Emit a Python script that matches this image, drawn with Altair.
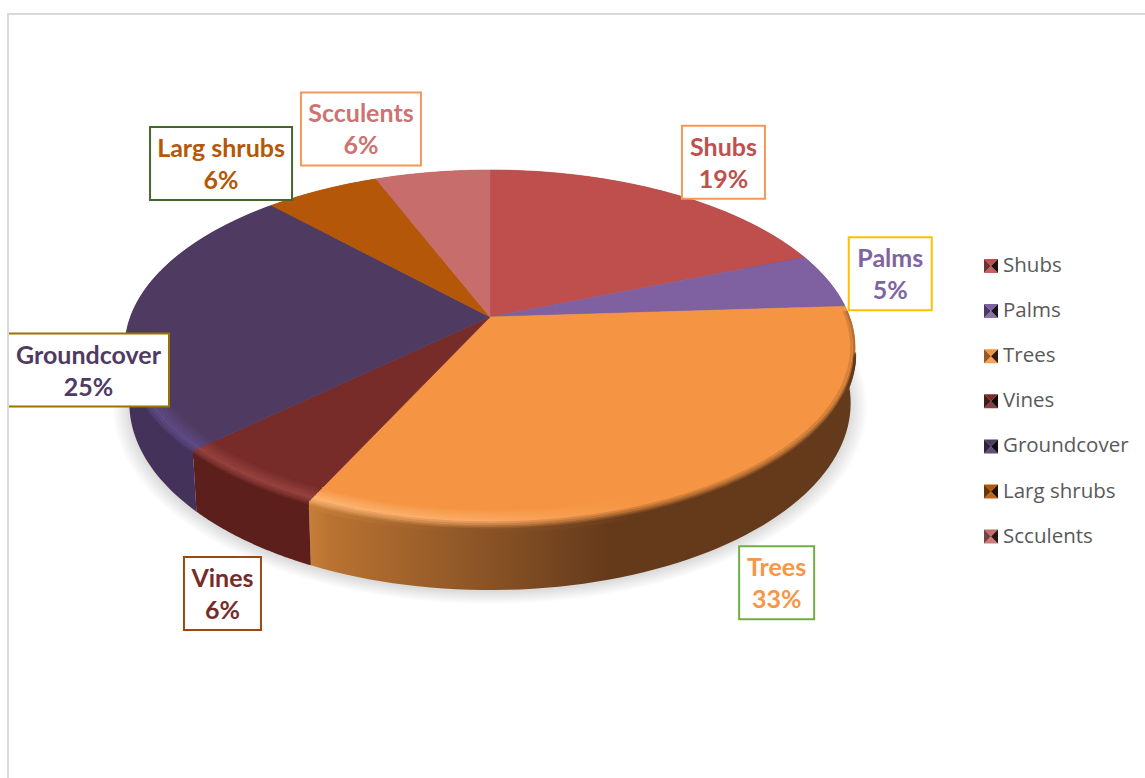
import numpy as np
import pandas as pd
import altair as alt

# Garden planting mix, one slice per plant group
categories = ["Shubs", "Palms", "Trees", "Vines", "Groundcover", "Larg shrubs", "Scculents"]
shares = [19, 5, 33, 6, 25, 6, 6]
face_colors = ["#BE4F4C", "#7F60A0", "#F59543", "#772C2A", "#4F3B62", "#B55708", "#C76D6B"]
side_colors = ["#7E3432", "#55406B", "#8E5627", "#5C1F1C", "#44325A", "#7A3A05", "#864947"]
rim_colors = ["#BE4F4C", "#7F60A0", "#FBAA66", "#96423E", "#5F4B85", "#B55708", "#C76D6B"]
box_colors = ["#F4985A", "#FFC000", "#70AD47", "#9E480E", "#997300", "#43682B", "#F4985A"]

# Label box centre relative to the slice's rim midpoint, and box size
label_dx = [56.5, 62, 51, -22, -44, -100.7, -71.4]
label_dy = [-30, -7, 99.5, 114.5, 58.5, -26.5, -43.3]
box_w = [83, 83, 75, 77, 161, 142, 120]
box_h = 73

W, H = 1145, 778
CX, CY, AX, AY, PERSP, DEPTH = 490, 317, 359.6, 172.3, 0.172, 53.8


def project(theta, lift=0.0, shrink=0.0, grow=0.0, shift=0.0, radius=1.0):
    """Clockwise angle from 12 o'clock onto the tilted disc, in canvas units."""
    u, v = radius * np.sin(theta), -radius * np.cos(theta)
    den = 1 - PERSP * v
    x = CX + (AX + grow) * u / den * (1 - shrink)
    y = CY + (AY + grow * 0.6) * v / den + lift * DEPTH / den + shift
    return x, y


def mix(a, b, t):
    t = min(max(t, 0), 1)
    pa = [int(a[i:i + 2], 16) for i in (1, 3, 5)]
    pb = [int(b[i:i + 2], 16) for i in (1, 3, 5)]
    return "#" + "".join(f"{round(p + (q - p) * t):02x}" for p, q in zip(pa, pb))


def band(d, face, rim, side):
    if d <= -3:
        return mix(face, rim, (d + 12) / 9)
    return mix(rim, side, (d + 3) / 7)


def hgrad(stops):
    return {"gradient": "linear", "x1": 0, "x2": 1, "y1": 0, "y2": 0,
            "stops": [{"offset": o, "color": c} for o, c in stops]}


x_scale = alt.Scale(domain=[0, W], nice=False, zero=False)
y_scale = alt.Scale(domain=[H, 0], nice=False, zero=False)
x_enc = alt.X("x:Q", axis=None, scale=x_scale)
y_enc = alt.Y("y:Q", axis=None, scale=y_scale)


def outline(xs, ys):
    return pd.DataFrame({"x": xs, "y": ys, "i": np.arange(len(xs))})


def shape(xs, ys, **mark):
    return alt.Chart(outline(xs, ys)).mark_line(interpolate="linear-closed", **mark).encode(
        x=x_enc, y=y_enc, order="i:Q")


def strip(xs, ys, **mark):
    return alt.Chart(outline(xs, ys)).mark_line(strokeCap="butt", **mark).encode(
        x=x_enc, y=y_enc, order="i:Q")


fractions = np.cumsum([0] + shares) / sum(shares)
starts = fractions[:-1] * 2 * np.pi
ends = fractions[1:] * 2 * np.pi
layers = []

# Top edge of the frame
layers.append(alt.Chart(pd.DataFrame({"a": [0]})).mark_rule(color="#D9D9D9", strokeWidth=2).encode(
    x=alt.value(8), x2=alt.value(W), y=alt.value(14)))

# Soft contact shadow under the disc, stacked from wide and faint to tight
ring = np.linspace(0, 2 * np.pi, 181)
for k in range(12):
    gx, gy = project(ring, lift=1, shrink=0.012, grow=1.5 * k, shift=2)
    layers.append(shape(gx, gy, fill="#000000", fillOpacity=0.012, strokeWidth=0, stroke="#000000",
                        strokeOpacity=0))

# Side wall of the disc
for i in range(len(categories)):
    arc = np.linspace(starts[i], ends[i], 70)
    tx, ty = project(arc)
    bx, by = project(arc[::-1], lift=1, shrink=0.012)
    fill = side_colors[i]
    if categories[i] == "Trees":
        fill = hgrad([(0, "#C77F38"), (0.04, "#B97231"), (0.3, "#8E5627"), (0.55, "#653A1B"), (1, "#633A1B")])
    layers.append(shape(np.r_[tx, bx], np.r_[ty, by], fill=fill, stroke=side_colors[i], strokeWidth=0))

# Top faces
for i in range(len(categories)):
    arc = np.linspace(starts[i], ends[i], 90)
    tx, ty = project(arc)
    layers.append(shape(np.r_[CX, tx], np.r_[CY, ty], fill=face_colors[i], stroke=face_colors[i],
                        strokeWidth=0.6))

# Rounded bevel along the front rim: strips inside the face step inward,
# the edge strip hugs the rim, and strips below it step down the wall
face_a, face_b = np.deg2rad(88), np.deg2rad(262)
wall_a, wall_b = np.deg2rad(101), np.deg2rad(259)
for i in range(len(categories)):
    for d in np.arange(-12, 6.5, 1.5):
        lo, hi = (face_a, face_b) if d <= 0 else (wall_a, wall_b)
        a, b = max(starts[i], lo), min(ends[i], hi)
        if a >= b:
            continue
        arc = np.linspace(a, b, 80)
        if d <= 0:
            px, py = project(arc, radius=1 + (d - 0.5) / 200)
        else:
            px, py = project(arc, shift=d)
        if categories[i] == "Trees":
            # The highlight dies away toward the right, where the wall sits in shade
            rows = [(0.0, "#FDB572", "#C77F38"), (0.3, "#FBAA66", "#8E5627"),
                    (0.6, face_colors[i], "#653A1B"), (1.0, face_colors[i], "#633A1B")]
            stroke = hgrad([(o, band(d, face_colors[i], r, s)) for o, r, s in rows])
        else:
            stroke = band(d, face_colors[i], rim_colors[i], side_colors[i])
        layers.append(strip(px, py, stroke=stroke, strokeWidth=2.4))

# Boxed data labels
mid = (starts + ends) / 2
ax, ay = project(mid)
labels = pd.DataFrame({
    "name": categories,
    "pct": [f"{s}%" for s in shares],
    "x": ax + np.array(label_dx),
    "y": ay + np.array(label_dy),
    "text_color": ["#C0504D", "#8064A2", "#F79646", "#772C2A", "#4F3B62", "#B65708", "#CD7371"],
    "box_color": box_colors,
})
labels["x1"] = labels["x"] - np.array(box_w) / 2
labels["x2"] = labels["x"] + np.array(box_w) / 2
labels["y1"] = labels["y"] - box_h / 2
labels["y2"] = labels["y"] + box_h / 2
labels["y_name"] = labels["y1"] + 22
labels["y_pct"] = labels["y1"] + 54

layers.append(alt.Chart(labels).mark_rect(fill="#FFFFFF", strokeWidth=2).encode(
    x=alt.X("x1:Q", axis=None, scale=x_scale), x2="x2:Q",
    y=alt.Y("y1:Q", axis=None, scale=y_scale), y2="y2:Q",
    stroke=alt.Stroke("box_color:N", scale=None, legend=None)))
label_font = dict(font="Lato", fontWeight="bold", fontSize=25, baseline="middle", align="center")
for field, ypos in (("name", "y_name"), ("pct", "y_pct")):
    layers.append(alt.Chart(labels).mark_text(**label_font).encode(
        x=x_enc,
        y=alt.Y(f"{ypos}:Q", axis=None, scale=y_scale),
        text=f"{field}:N",
        color=alt.Color("text_color:N", scale=None, legend=None)))

# Left edge of the frame, over the box that touches it
layers.append(alt.Chart(pd.DataFrame({"a": [0]})).mark_rule(color="#D9D9D9", strokeWidth=2).encode(
    x=alt.value(8), y=alt.value(13), y2=alt.value(H)))

# Legend with pyramid-style swatches
row = np.arange(len(categories))
legend = pd.DataFrame({
    "name": categories,
    "x": 991.0,
    "y": 266 + row * 45.1,
    "x_text": 1003.0,
    "top": face_colors,
    "bottom": [mix(c, "#FFFFFF", 0.1) for c in face_colors],
    "left": [mix(c, "#000000", 0.4) for c in face_colors],
    "right": [mix(c, "#000000", 0.8) for c in face_colors],
})
pieces = {
    "top": "M-1,-1L1,-1L0,0Z",
    "bottom": "M-1,1L1,1L0,0Z",
    "left": "M-1,-1L-1,1L0,0Z",
    "right": "M1,-1L1,1L0,0Z",
}
for part, path in pieces.items():
    layers.append(alt.Chart(legend).mark_point(shape=path, size=196, filled=True, opacity=1, strokeWidth=0).encode(
        x=x_enc, y=y_enc, color=alt.Color(f"{part}:N", scale=None, legend=None)))
layers.append(alt.Chart(legend).mark_text(
    font="Open Sans", fontSize=20.5, align="left", baseline="middle", color="#595959").encode(
    x=alt.X("x_text:Q", axis=None, scale=x_scale), y=y_enc, text="name:N"))

chart = alt.layer(*layers).properties(
    width=W, height=H, padding=0, autosize=alt.AutoSizeParams(type="none"), background="#FFFFFF"
).configure_view(stroke=None)

chart.save("out.html", embed_options={"renderer": "svg", "actions": False})
